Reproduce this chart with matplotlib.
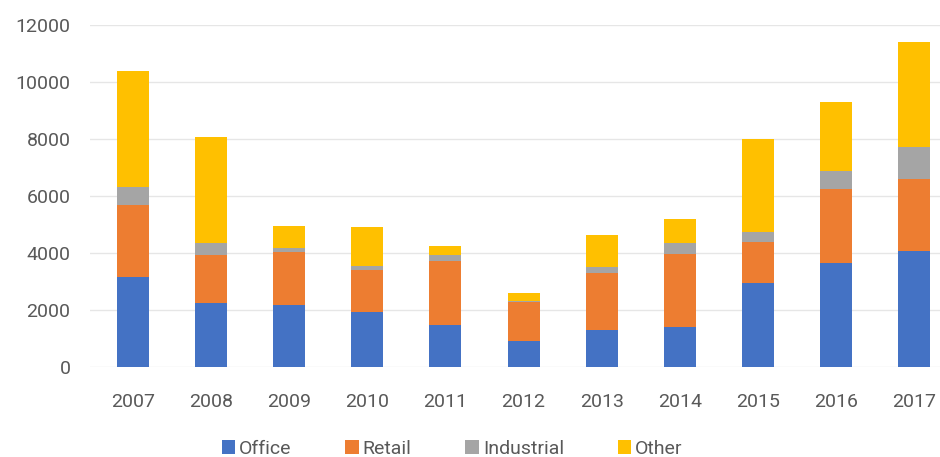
import matplotlib.pyplot as plt
import numpy as np

years = ['2007', '2008', '2009', '2010', '2011', '2012', '2013', '2014', '2015', '2016', '2017']
office = [3170, 2260, 2180, 1940, 1470, 920, 1300, 1390, 2960, 3640, 4080]
retail = [2510, 1670, 1870, 1460, 2260, 1370, 1990, 2575, 1440, 2600, 2500]
industrial = [650, 430, 120, 140, 200, 30, 230, 375, 350, 650, 1150]
other = [4060, 3720, 760, 1380, 320, 290, 1110, 840, 3240, 2420, 3660]

series = [('Office', office, '#4472C4'),
          ('Retail', retail, '#ED7D31'),
          ('Industrial', industrial, '#A5A5A5'),
          ('Other', other, '#FFC000')]

plt.rcParams['font.family'] = ['Roboto', 'DejaVu Sans']

fig = plt.figure(figsize=(9.4, 4.57), dpi=100)
ax = fig.add_axes([90/940, 1-367/457, 1-90/940, (367-25)/457])

x = np.arange(len(years))
bottom = np.zeros(len(years))
for name, vals, col in series:
    ax.bar(x, vals, 0.41, bottom=bottom, color=col, label=name, zorder=3)
    bottom += np.array(vals)

ax.set_xlim(-0.55, 10.33)
ax.set_ylim(0, 12000)
ax.set_yticks(range(0, 12001, 2000))
ax.set_xticks(x)
ax.set_xticklabels(years)
ax.grid(axis='y', color='#E6E6E6', linewidth=1, zorder=0)
for s in ax.spines.values():
    s.set_visible(False)
ax.tick_params(length=0, labelsize=14, colors='#595959')
ax.tick_params(axis='y', pad=14)
ax.tick_params(axis='x', pad=19)

ax.legend(loc='upper center', bbox_to_anchor=(0.426, -0.162), ncol=4, frameon=False,
          fontsize=14, handlelength=0.7, handleheight=0.7, handletextpad=0.2,
          columnspacing=2.76, labelcolor='#595959')

fig.savefig('out.png', dpi=100)
